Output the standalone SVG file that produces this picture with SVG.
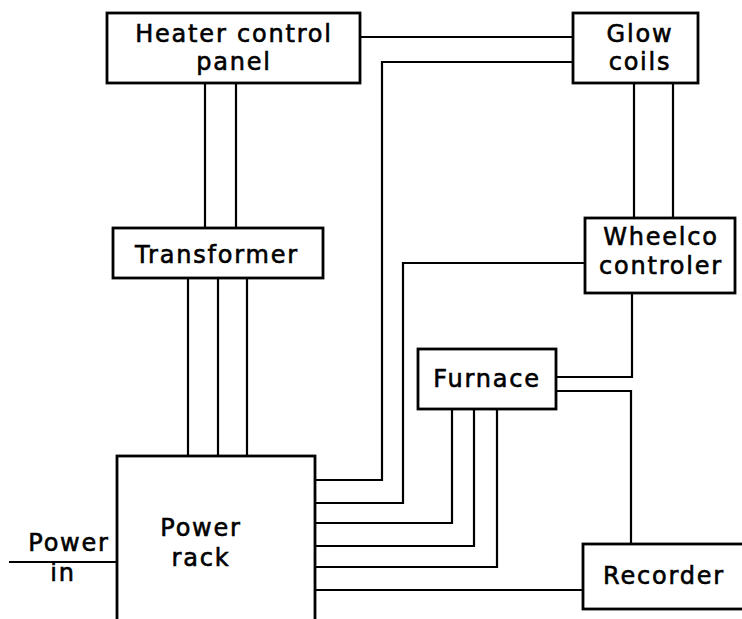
<svg xmlns="http://www.w3.org/2000/svg" width="742" height="619" viewBox="0 0 742 619">
<style>
.box{fill:#fff;stroke:#000;stroke-width:2.8}
.ln{fill:none;stroke:#000;stroke-width:2.2}
text{font-family:"DejaVu Sans","Liberation Sans",sans-serif;font-size:24px;fill:#000;stroke:#000;stroke-width:0.6;text-anchor:middle;letter-spacing:1.8px}
</style>
<rect width="742" height="619" fill="#fff"/>
<g id="connectors">
<path class="ln" d="M360 37H573"/>
<path class="ln" d="M573 62H382V480H315"/>
<path class="ln" d="M205 83V228M236 83V228"/>
<path class="ln" d="M188 278V456M218 278V456M247 278V456"/>
<path class="ln" d="M634 83V218M673 83V218"/>
<path class="ln" d="M585 263H403V503H315"/>
<path class="ln" d="M632 293V377H556"/>
<path class="ln" d="M556 391H631V544"/>
<path class="ln" d="M452 409V523H315M474 409V546H315M497 409V567H315"/>
<path class="ln" d="M315 590H583"/>
<path class="ln" d="M9 562H117" stroke-width="3"/>
</g>
<g id="heater"><rect class="box" x="107" y="13" width="253" height="70"/><text x="234" y="42">Heater control</text><text x="234" y="70">panel</text></g>
<g id="glow"><rect class="box" x="573" y="13" width="125" height="70"/><text x="640" y="42">Glow</text><text x="640" y="70">coils</text></g>
<g id="transformer"><rect class="box" x="113" y="228" width="210" height="50"/><text x="217" y="263">Transformer</text></g>
<g id="wheelco"><rect class="box" x="585" y="218" width="150" height="75"/><text x="661" y="245">Wheelco</text><text x="661" y="274">controler</text></g>
<g id="furnace"><rect class="box" x="418" y="349" width="138" height="60"/><text x="487" y="387">Furnace</text></g>
<g id="powerrack"><rect class="box" x="117" y="456" width="198" height="165"/><text x="201" y="536">Power</text><text x="201" y="566">rack</text></g>
<g id="recorder"><rect class="box" x="583" y="544" width="165" height="65"/><text x="664" y="584">Recorder</text></g>
<g id="powerin"><text x="69" y="551">Power</text><text x="63" y="581">in</text></g>
</svg>
